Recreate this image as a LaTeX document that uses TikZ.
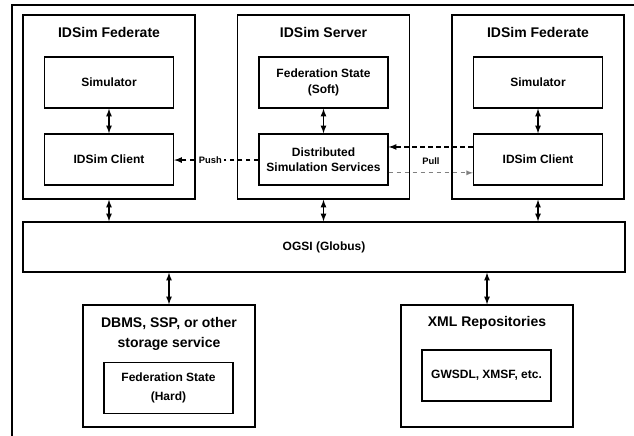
\documentclass[tikz,border=0pt]{standalone}
\usepackage{fontspec}
\setmainfont{Liberation Sans}
\usetikzlibrary{calc}

\begin{document}
\begin{tikzpicture}[x=0.75pt,y=-0.75pt,line width=1pt,
		outerbox/.style={draw,minimum width=129pt,minimum height=138pt},
		innerbox/.style={draw,minimum width=96.75pt,minimum height=38.25pt,align=center,font=\fontsize{9}{11.5}\selectfont\bfseries},
		titletext/.style={font=\fontsize{10.5}{15}\selectfont\bfseries,align=center},
		smalltext/.style={font=\fontsize{7}{8}\selectfont\bfseries,inner sep=1.5pt},
		dashline/.style={dash pattern=on 3.5pt off 2.5pt}]
		
		\useasboundingbox (0,0) rectangle (634,435);
		\coordinate (frameL) at (12,436);
		\coordinate (frameC) at (12,5);
		\coordinate (frameR) at (635,5);
		\draw (frameL) -- (frameC) -- (frameR);
		
		\node (ogsi) at (324,247) [draw,minimum width=451.5pt,minimum height=37.5pt,font=\fontsize{9}{11}\selectfont\bfseries] {OGSI (Globus)};
		
		\foreach \x/\n in {109/l, 538/r} {
			\node (fed\n) at (\x,107) [outerbox] {};
			\node (fedt\n) at (\x,32) [titletext] {IDSim Federate};
			\node (sim\n) at (\x,82.5) [innerbox] {Simulator};
			\node (cli\n) at (\x,159.5) [innerbox] {IDSim Client};
			\draw[latex-latex] (sim\n) -- (cli\n);
			\draw[latex-latex] (fed\n) -- (fed\n |- ogsi.north);
		}
		
		\node (srv) at (323.5,107) [outerbox] {};
		\node (srvt) at (323.5,32) [titletext] {IDSim Server};
		\node (fss) at (323.5,82.5) [innerbox] {Federation State\\(Soft)};
		\node (dss) at (323.5,159.5) [innerbox] {Distributed\\Simulation Services};
		\draw[latex-latex] (fss) -- (dss);
		\draw[latex-latex] (srv) -- (srv |- ogsi.north);
		
		% push / pull
		\draw[dashline,-latex] ([yshift=-0.4pt]dss.west) -- ([yshift=-0.4pt]clil.east) node[pos=0.57,fill=white,smalltext] (push) {Push};
		\draw[dashline,-latex] ([yshift=9.4pt]clir.west) -- ([yshift=9.4pt]dss.east);
		\draw[dashline,-latex,gray,line width=0.7pt] ([yshift=-10pt]dss.east) -- ([yshift=-10pt]clir.west);
		\node (pull) at (431,161) [smalltext] {Pull};
		
		% storage
		\node (dbms) at (169,366) [draw,minimum width=129pt,minimum height=91.5pt] {};
		\node (dbmst) at (169,334) [titletext] {DBMS, SSP, or other\\storage service};
		\node (fsh) at (168.5,388) [innerbox,font=\fontsize{9}{14}\selectfont\bfseries] {Federation State\\(Hard)};
		\draw[latex-latex] (ogsi.south -| dbms) -- (dbms);
		
		\node (xml) at (487,366) [draw,minimum width=129pt,minimum height=91.5pt] {};
		\node (xmlt) at (487,323) [titletext] {XML Repositories};
		\node (gws) at (486.5,375.5) [innerbox] {GWSDL, XMSF, etc.};
		\draw[latex-latex] (ogsi.south -| xml) -- (xml);
		
	\end{tikzpicture}
\end{document}
